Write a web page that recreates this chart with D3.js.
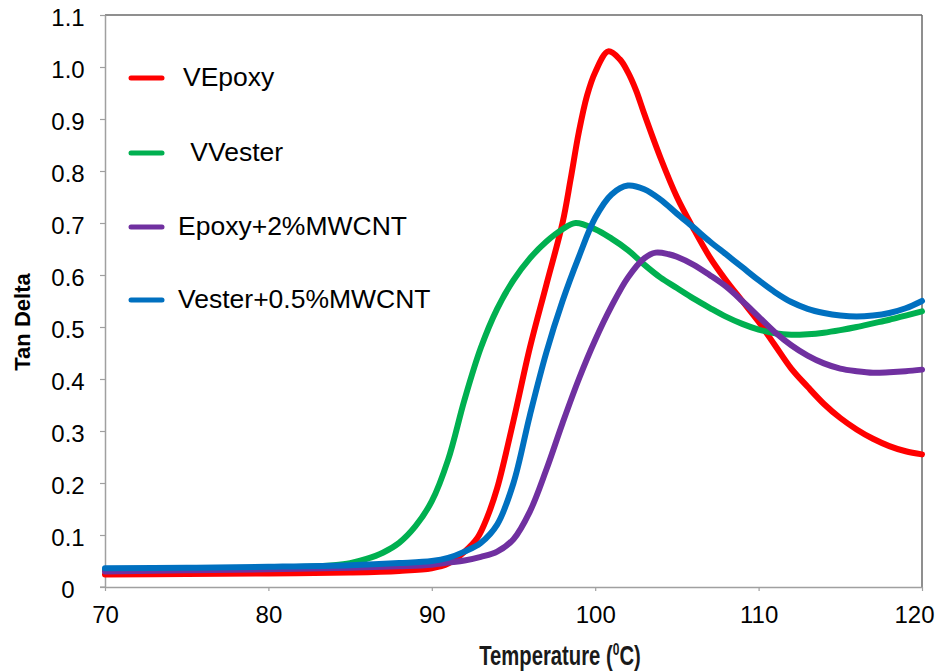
<!DOCTYPE html>
<html>
<head>
<meta charset="utf-8">
<script src="https://cdn.jsdelivr.net/npm/d3@7"></script>
<style>
  html, body { margin: 0; padding: 0; background: #fff; }
  svg { display: block; }
</style>
</head>
<body>
<svg id="chart" width="938" height="671"></svg>
<script>
// ---------------- DATA ----------------
const xTickValues = [70, 80, 90, 100, 110, 120];
const yTickValues = [0, 0.1, 0.2, 0.3, 0.4, 0.5, 0.6, 0.7, 0.8, 0.9, 1.0, 1.1];
const yTickLabels = ["0", "0.1", "0.2", "0.3", "0.4", "0.5", "0.6", "0.7", "0.8", "0.9", "1.0", "1.1"];

const seriesNames = ["VEpoxy", " VVester", "Epoxy+2%MWCNT", "Vester+0.5%MWCNT"];
const seriesColors = ["#FF0000", "#00B050", "#7030A0", "#0070C0"];

const vepoxyT = [70, 75, 80, 85, 88, 90, 91, 92, 92.8, 93.4, 94, 95, 96, 97, 98, 98.5, 99, 99.5, 100, 100.8, 101.5, 102, 102.5, 103, 104, 105, 106, 107, 108, 109, 110, 111, 112, 113, 114, 115, 116, 117, 118, 119, 120];
const vepoxyY = [0.024, 0.025, 0.026, 0.028, 0.031, 0.036, 0.045, 0.068, 0.095, 0.135, 0.19, 0.32, 0.46, 0.58, 0.70, 0.785, 0.875, 0.945, 0.99, 1.03, 1.015, 0.99, 0.955, 0.91, 0.825, 0.75, 0.69, 0.635, 0.59, 0.55, 0.51, 0.465, 0.42, 0.385, 0.352, 0.325, 0.303, 0.285, 0.271, 0.261, 0.255];

const vvesterT = [70, 75, 80, 83, 84, 85, 86, 87, 88, 89, 90, 91, 92, 93, 94, 95, 96, 97, 98, 98.8, 100, 101, 102, 103, 104, 105, 106, 107, 108, 109, 110, 111, 112, 113, 114, 115, 116, 117, 118, 119, 120];
const vvesterY = [0.033, 0.035, 0.037, 0.040, 0.042, 0.046, 0.054, 0.066, 0.085, 0.117, 0.165, 0.245, 0.36, 0.46, 0.535, 0.59, 0.632, 0.664, 0.688, 0.70, 0.688, 0.67, 0.648, 0.62, 0.595, 0.575, 0.555, 0.537, 0.52, 0.506, 0.495, 0.488, 0.485, 0.486, 0.489, 0.494, 0.50, 0.507, 0.514, 0.522, 0.53];

const epoxyCntT = [70, 75, 80, 85, 88, 90, 91, 92, 93, 94, 95, 96, 97, 98, 99, 100, 101, 102, 103, 103.7, 104.5, 105, 106, 107, 108, 109, 110, 111, 112, 113, 114, 115, 116, 117, 118, 119, 120];
const epoxyCntY = [0.03, 0.032, 0.034, 0.037, 0.04, 0.043, 0.047, 0.051, 0.058, 0.068, 0.092, 0.145, 0.225, 0.315, 0.40, 0.475, 0.54, 0.595, 0.632, 0.643, 0.64, 0.635, 0.62, 0.60, 0.578, 0.55, 0.52, 0.49, 0.465, 0.445, 0.43, 0.42, 0.415, 0.412, 0.413, 0.415, 0.418];

const vesterCntT = [70, 75, 80, 85, 88, 90, 91, 92, 93, 94, 95, 96, 97, 98, 99, 100, 101, 102, 103, 104, 105, 106, 107, 108, 109, 110, 111, 112, 113, 114, 115, 116, 117, 118, 119, 120];
const vesterCntY = [0.036, 0.037, 0.039, 0.042, 0.046, 0.05, 0.056, 0.068, 0.085, 0.12, 0.20, 0.33, 0.45, 0.55, 0.635, 0.71, 0.755, 0.772, 0.765, 0.745, 0.718, 0.692, 0.665, 0.64, 0.615, 0.59, 0.567, 0.548, 0.535, 0.527, 0.522, 0.52, 0.522, 0.527, 0.536, 0.55];

const seriesT = [vepoxyT, vvesterT, epoxyCntT, vesterCntT];
const seriesY = [vepoxyY, vvesterY, epoxyCntY, vesterCntY];

// ---------------- CHART ----------------
(function () {
const svg = d3.select("#chart");
const pLeft = 105, pRight = 922, pTop = 15, pBottom = 587;

const x = d3.scaleLinear().domain([70, 120]).range([pLeft, pRight]);
const y = d3.scaleLinear().domain([0, 1.1]).range([pBottom, pTop]);

const tickFont = "'Liberation Sans', Arial, sans-serif";

// frame (top & right darker)
svg.append("line").attr("x1", pLeft).attr("x2", pRight).attr("y1", pTop).attr("y2", pTop)
  .attr("stroke", "#6a6a6a").attr("stroke-width", 1.5);
svg.append("line").attr("x1", pRight).attr("x2", pRight).attr("y1", pTop).attr("y2", pBottom)
  .attr("stroke", "#6a6a6a").attr("stroke-width", 1.5);

// Y axis
const yAxis = svg.append("g").attr("transform", `translate(${pLeft},0)`)
  .call(d3.axisLeft(y).tickValues(yTickValues).tickSize(5).tickSizeOuter(0)
    .tickFormat((d, i) => yTickLabels[i]));
yAxis.select(".domain").attr("stroke", "#a0a0a0").attr("stroke-width", 1.5);
yAxis.selectAll(".tick line").attr("stroke", "#a0a0a0").attr("stroke-width", 1.2);
yAxis.selectAll(".tick text")
  .attr("x", -37).attr("dy", "0.42em").attr("text-anchor", "middle")
  .style("font-family", tickFont).style("font-size", "24px").attr("fill", "#000");

// X axis
const xAxis = svg.append("g").attr("transform", `translate(0,${pBottom})`)
  .call(d3.axisBottom(x).tickValues(xTickValues).tickSize(4).tickSizeOuter(0)
    .tickFormat(d3.format("d")));
xAxis.select(".domain").attr("stroke", "#a0a0a0").attr("stroke-width", 1.5);
xAxis.selectAll(".tick line").attr("stroke", "#a0a0a0").attr("stroke-width", 1.2);
xAxis.selectAll(".tick text")
  .attr("y", 19).attr("dy", "0.71em")
  .attr("dx", d => d === 120 ? -8 : 0)
  .style("font-family", tickFont).style("font-size", "24px").attr("fill", "#000");
svg.append("line").attr("x1", pLeft - 5).attr("x2", pLeft).attr("y1", pBottom).attr("y2", pBottom)
  .attr("stroke", "#a0a0a0").attr("stroke-width", 1.2);

// Lines
const line = d3.line().curve(d3.curveCatmullRom.alpha(0.5));
seriesT.forEach((ts, i) => {
  const pts = ts.map((t, j) => [x(t), y(seriesY[i][j])]);
  svg.append("path").attr("d", line(pts))
    .attr("fill", "none").attr("stroke", seriesColors[i])
    .attr("stroke-width", 6).attr("stroke-linejoin", "round").attr("stroke-linecap", "round");
});

// Legend
const legendY = [78, 153, 227, 300];
const legendTextX = [183, 183, 178, 178];
seriesNames.forEach((name, i) => {
  svg.append("line").attr("x1", 131).attr("x2", 162)
    .attr("y1", legendY[i]).attr("y2", legendY[i])
    .attr("stroke", seriesColors[i]).attr("stroke-width", 5).attr("stroke-linecap", "round");
  svg.append("text").attr("x", legendTextX[i]).attr("y", legendY[i] - 2)
    .attr("dy", "0.36em")
    .attr("xml:space", "preserve")
    .style("white-space", "pre")
    .style("font-family", tickFont).style("font-size", "26.5px").attr("fill", "#000")
    .text(name);
});

// Axis titles
svg.append("text")
  .attr("transform", "translate(30,322) rotate(-90)")
  .attr("text-anchor", "middle")
  .style("font-family", tickFont).style("font-size", "22px").style("font-weight", "bold")
  .attr("fill", "#000")
  .text("Tan Delta");

const xt = svg.append("text")
  .attr("transform", "translate(560,665) scale(0.75,1)")
  .attr("text-anchor", "middle")
  .style("font-family", "'Liberation Sans', Arial, sans-serif")
  .style("font-size", "27px").style("font-weight", "bold")
  .attr("fill", "#1a1a1a");
xt.append("tspan").text("Temperature (");
xt.append("tspan").attr("dy", -10).style("font-size", "16px").text("0");
xt.append("tspan").attr("dy", 10).text("C)");
})();
</script>
</body>
</html>
